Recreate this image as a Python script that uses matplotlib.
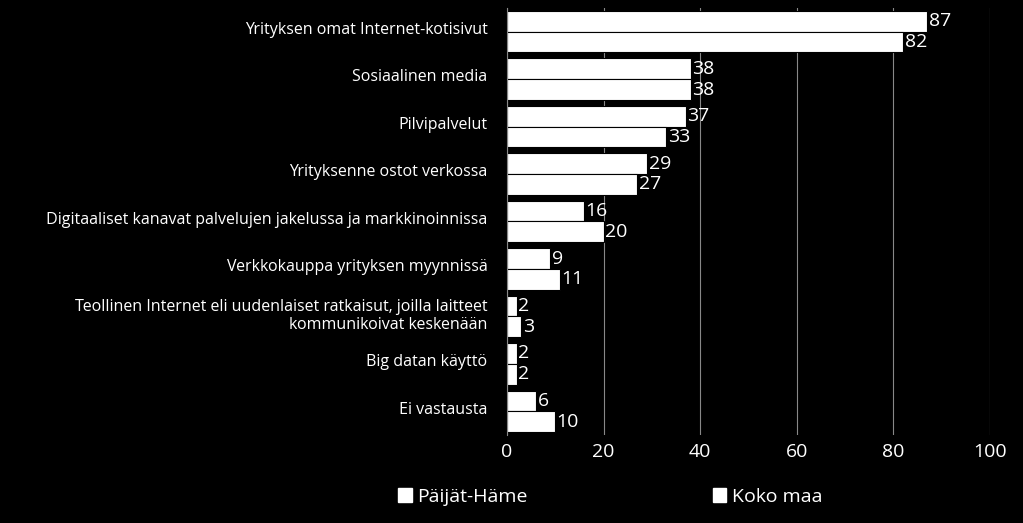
import matplotlib
matplotlib.use("Agg")
import matplotlib.pyplot as plt
import numpy as np
from matplotlib.patches import Patch

categories = ["Yrityksen omat Internet-kotisivut", "Sosiaalinen media", "Pilvipalvelut",
              "Yrityksenne ostot verkossa",
              "Digitaaliset kanavat palvelujen jakelussa ja markkinoinnissa",
              "Verkkokauppa yrityksen myynnissä",
              "Teollinen Internet eli uudenlaiset ratkaisut, joilla laitteet\nkommunikoivat keskenään",
              "Big datan käyttö", "Ei vastausta"]
paijat = [87, 38, 37, 29, 16, 9, 2, 2, 6]
koko = [82, 38, 33, 27, 20, 11, 3, 2, 10]
series_names = ["Päijät-Häme", "Koko maa"]
xticks = [0, 20, 40, 60, 80, 100]

font = "Open Sans"
fig = plt.figure(figsize=(10.23, 5.23), dpi=100, facecolor="black")
ax = fig.add_axes([0.4956, 0.168, 0.4722, 0.817], facecolor="black")
y = np.arange(len(categories))
h = 0.44
ax.barh(y - h/2, paijat, h, color="white", edgecolor="black", linewidth=0.8)
ax.barh(y + h/2, koko, h, color="white", edgecolor="black", linewidth=0.8)
for i in range(len(categories)):
    ax.text(paijat[i] + 0.3, y[i] - h/2, str(paijat[i]), color="white", va="center", ha="left",
            fontsize=14, family=font)
    ax.text(koko[i] + 0.3, y[i] + h/2, str(koko[i]), color="white", va="center", ha="left",
            fontsize=14, family=font)
ax.set_xlim(0, 100)
ax.set_ylim(len(categories) - 0.5, -0.5)
ax.set_xticks(xticks)
ax.set_xticklabels([str(t) for t in xticks], color="white", fontsize=14, family=font)
ax.set_yticks(y - 0.08)
ax.set_yticklabels(categories, color="white", fontsize=11.5, family=font, ha="right")
ax.tick_params(axis="y", length=0, pad=14)
ax.tick_params(axis="x", length=0, pad=6)
ax.grid(axis="x", color="#888888", linewidth=0.8)
ax.set_axisbelow(True)
for s in ["top", "right", "bottom"]:
    ax.spines[s].set_visible(False)
ax.spines["left"].set_color("#888888")
handles = [Patch(facecolor="white", edgecolor="white") for _ in series_names]
leg = fig.legend(handles, series_names, loc="lower left", bbox_to_anchor=(0.372, 0.0),
                 ncol=2, frameon=False, columnspacing=9.5, handlelength=0.7, handleheight=0.7,
                 handletextpad=0.3, prop={"family": font, "size": 14})
for t in leg.get_texts():
    t.set_color("white")
fig.savefig("out.png", dpi=100, facecolor="black")
